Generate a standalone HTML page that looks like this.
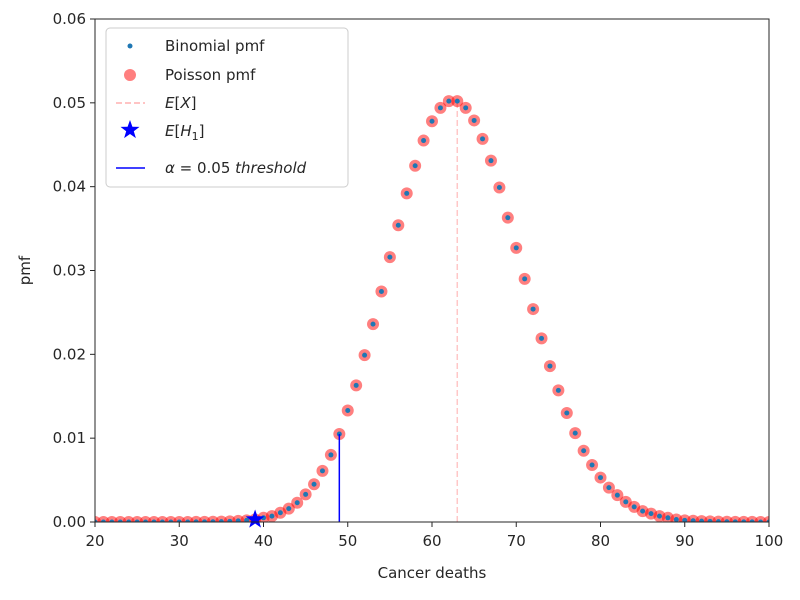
<!DOCTYPE html>
<html><head><meta charset="utf-8"><style>
body{margin:0;background:#fff;}
svg text{font-family:"DejaVu Sans","Liberation Sans",sans-serif;fill:#262626;}
</style></head><body>
<svg id="chart" width="800" height="595" xmlns="http://www.w3.org/2000/svg">
<g id="plot"></g>
</svg>
<script>
const categories=[20,21,22,23,24,25,26,27,28,29,30,31,32,33,34,35,36,37,38,39,40,41,42,43,44,45,46,47,48,49,50,51,52,53,54,55,56,57,58,59,60,61,62,63,64,65,66,67,68,69,70,71,72,73,74,75,76,77,78,79,80,81,82,83,84,85,86,87,88,89,90,91,92,93,94,95,96,97,98,99,100];
const values=[0,0,0,0,0,0,0,0,0,0,0,0,0.00001,0.00002,0.00003,0.00005,0.00008,0.00013,0.0002,0.0003,0.0005,0.0007,0.0011,0.0016,0.0023,0.0033,0.0045,0.0061,0.0080,0.0105,0.0133,0.0163,0.0199,0.0236,0.0275,0.0316,0.0354,0.0392,0.0425,0.0455,0.0478,0.0494,0.0502,0.0502,0.0494,0.0479,0.0457,0.0431,0.0399,0.0363,0.0327,0.0290,0.0254,0.0219,0.0186,0.0157,0.0130,0.0106,0.0085,0.0068,0.0053,0.0041,0.0032,0.0024,0.0018,0.0013,0.0010,0.0007,0.0005,0.0003,0.0002,0.00015,0.0001,0.00007,0.00005,0.00003,0.00002,0.00001,0.00001,0,0];
const xTicks=[20,30,40,50,60,70,80,90,100];
const yTicks=[0,0.01,0.02,0.03,0.04,0.05,0.06];
const meanX=63;
const h1X=39, h1Y=0.0003;
const thresholdX=49, thresholdY=0.0105;

const L=95,R=769,T=19,B=522;
const xs=v=>L+(v-20)/(100-20)*(R-L);
const ys=v=>B-(v/0.06)*(B-T);
const NS="http://www.w3.org/2000/svg";
const svg=document.getElementById('chart');
function mk(tag,attrs,parent){const e=document.createElementNS(NS,tag);for(const k in attrs)e.setAttribute(k,attrs[k]);(parent||svg).appendChild(e);return e;}

// clip
const defs=mk('defs',{});
const cp=mk('clipPath',{id:'clip'},defs);
mk('rect',{x:L,y:T,width:R-L,height:B-T},cp);
const g=mk('g',{'clip-path':'url(#clip)'});



// mean line
const ml=mk('line',{x1:xs(meanX),x2:xs(meanX),y1:ys(0),y2:ys(values[categories.indexOf(meanX)]),stroke:'#ffb0b0','stroke-width':1.5,'stroke-dasharray':'6,3',opacity:0.7},g);



categories.forEach((c,i)=>{
  const p=mk('circle',{cx:xs(c),cy:ys(values[i]),r:6,fill:'#ff0000','fill-opacity':0.5},g);
  
  
});
categories.forEach((c,i)=>{
  const p=mk('circle',{cx:xs(c),cy:ys(values[i]),r:2.5,fill:'#1f77b4'},g);
  
  
});
const tl=mk('line',{x1:xs(thresholdX),x2:xs(thresholdX),y1:ys(0),y2:ys(thresholdY),stroke:'#0000ff','stroke-width':1.5},g);



function star(cx,cy,r,parent){let pts=[];for(let i=0;i<10;i++){const a=-Math.PI/2+i*Math.PI/5;const rr=i%2?r*0.4:r;pts.push((cx+rr*Math.cos(a)).toFixed(1)+','+(cy+rr*Math.sin(a)).toFixed(1));}return mk('polygon',{points:pts.join(' '),fill:'#0000ff'},parent);}
const st=star(xs(h1X),ys(h1Y),10,svg);



// frame
const fr=mk('rect',{x:L,y:T,width:R-L,height:B-T,fill:'none',stroke:'#262626','stroke-width':1});



xTicks.forEach(t=>{
  const x=xs(t);
  mk('line',{x1:x,x2:x,y1:B,y2:B+5,stroke:'#262626'});
  const tx=mk('text',{x:x,y:B+24,'text-anchor':'middle','font-size':15});
  tx.textContent=t;
  
  
});
yTicks.forEach(t=>{
  const y=ys(t);
  mk('line',{x1:L-5,x2:L,y1:y,y2:y,stroke:'#262626'});
  const tx=mk('text',{x:L-9,y:y+5,'text-anchor':'end','font-size':15});
  tx.textContent=t.toFixed(2);
  
  
});
const xl=mk('text',{x:(L+R)/2,y:578,'text-anchor':'middle','font-size':15});
xl.textContent='Cancer deaths';


const yl=mk('text',{x:30,y:(T+B)/2,'text-anchor':'middle','font-size':15,transform:`rotate(-90 30 ${(T+B)/2})`});
yl.textContent='pmf';



// legend
const lg=mk('g',{});


mk('rect',{x:106,y:28,width:242,height:159,rx:4,fill:'#fff','fill-opacity':0.8,stroke:'#ccc'},lg);
const rows=[46,75,103,131,168];
mk('circle',{cx:130,cy:rows[0],r:2.5,fill:'#1f77b4'},lg);
mk('circle',{cx:130,cy:rows[1],r:6,fill:'#ff0000','fill-opacity':0.5},lg);
mk('line',{x1:116,x2:145,y1:rows[2],y2:rows[2],stroke:'#ffb0b0','stroke-width':1.5,'stroke-dasharray':'6,3'},lg);
star(130,rows[3]-1,10,lg);
mk('line',{x1:116,x2:145,y1:rows[4],y2:rows[4],stroke:'#0000ff','stroke-width':1.5},lg);
const labels=[['Binomial pmf',rows[0]],['Poisson pmf',rows[1]]];
labels.forEach(([s,y])=>{const t=mk('text',{x:165,y:y+5,'font-size':15},lg);t.textContent=s;
  
  });
const t3=mk('text',{x:165,y:rows[2]+5,'font-size':15},lg);
t3.innerHTML='<tspan font-style="italic">E</tspan>[<tspan font-style="italic">X</tspan>]';


const t4=mk('text',{x:165,y:rows[3]+5,'font-size':15},lg);
t4.innerHTML='<tspan font-style="italic">E</tspan>[<tspan font-style="italic">H</tspan><tspan font-size="11" dy="4">1</tspan><tspan dy="-4">]</tspan>';


const t5=mk('text',{x:165,y:rows[4]+5,'font-size':15},lg);
t5.innerHTML='<tspan font-style="italic">α</tspan> = 0.05 <tspan font-style="italic">threshold</tspan>';


</script>
</body></html>
